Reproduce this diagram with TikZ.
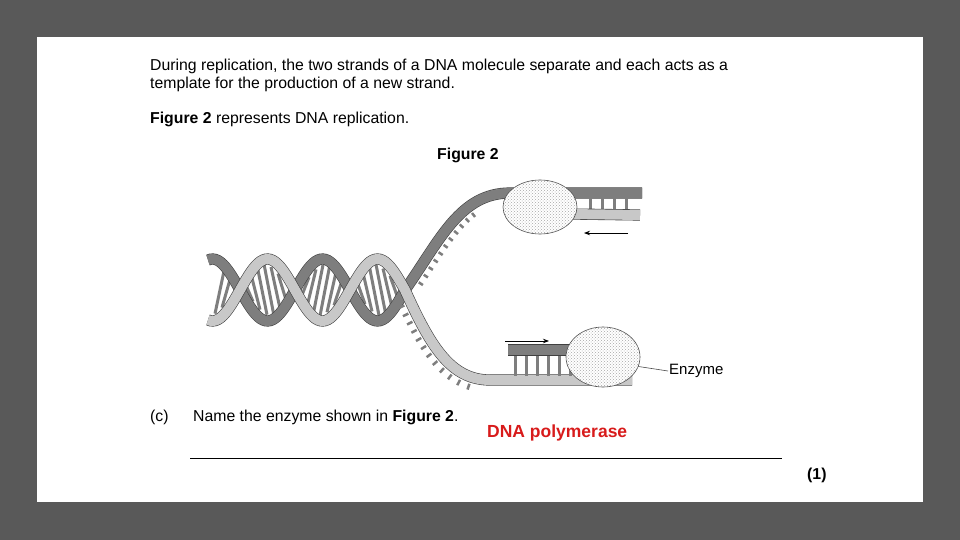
\documentclass[tikz,border=0pt]{standalone}
\usepackage{fontspec}
\setmainfont{Liberation Sans}
\usetikzlibrary{patterns,decorations.markings,arrows.meta,shapes.geometric}
\definecolor{bg}{HTML}{595959}
\definecolor{lite}{HTML}{C8C8C8}
\definecolor{dark}{HTML}{7E7E7E}
\definecolor{ans}{HTML}{D81B1B}
\begin{document}
\begin{tikzpicture}[x=1pt,y=-1pt,
  txt/.style={anchor=base west,inner sep=0pt,font=\fontsize{15.8}{18}\selectfont},
  lstrand/.style={draw=black!75,line width=0.6pt,double=lite,double distance=10pt},
  dstrand/.style={draw=black!75,line width=0.6pt,double=dark,double distance=10pt},
  rung/.style={line width=3pt,draw=dark},
  enz/.style={draw=black!70,line width=0.6pt,fill=white,postaction={pattern=crosshatch dots,pattern color=black!35}},
  arr/.style={-{Stealth[length=6pt]},line width=0.8pt}]
\fill[bg] (0,0) rectangle (960,540);
\fill[white] (37,37) rectangle (923,502);
\node[txt] (t1) at (150,71) {During replication, the two strands of a DNA molecule separate and each acts as a};
\node[txt] (t2) at (150,89) {template for the production of a new strand.};
\node[txt] (t3) at (150,124) {\textbf{Figure 2} represents DNA replication.};
\node[txt] (t4) at (437,160) {\textbf{Figure 2}};
% rungs in helix
\foreach \x in {220,227,...,400}{
  \pgfmathsetmacro{\c}{cos(3.2727*(\x-157.5))}
  \pgfmathparse{abs(\c)>0.35?1:0}
  \ifnum\pgfmathresult=1
   \draw[rung] (\x-5,{290-26*\c}) -- (\x+5,{290+26*\c});
  \fi}
% dark strand
\draw[dstrand] plot[domain=208:405,samples=80] (\x,{290+31*cos(3.2727*(\x-157.5))})
  .. controls (440,240) and (460,193) .. (510,193) -- (642,193);
\draw[decoration={markings,mark=between positions 0.05 and 0.38 step 9pt with {\draw[line width=2.5pt,dark] (0pt,-7pt)--(0pt,-12pt);}},decorate] (405,290) .. controls (440,240) and (460,193) .. (510,193) -- (642,193);
% light strand
\draw[lstrand] plot[domain=208:405,samples=80] (\x,{290-31*cos(3.2727*(\x-157.5))})
  .. controls (430,345) and (450,380) .. (490,380) -- (632,380);
\draw[decoration={markings,mark=between positions 0.05 and 0.42 step 9pt with {\draw[line width=2.5pt,dark] (0pt,-7pt)--(0pt,-13pt);}},decorate] (405,290) .. controls (430,345) and (450,380) .. (490,380) -- (632,380);
% upper replicated part
\foreach \x in {590,602,614,626}{\draw[line width=3pt,dark] (\x,197)--(\x,210);}
\draw[lstrand] (570,214) -- (640,215);
\node[enz,ellipse,minimum width=74pt,minimum height=54pt] (e1) at (540,207) {};
\draw[arr] (628,233) -- (584,233);
% lower replicated part
\foreach \x in {515,526,...,570}{\draw[line width=3pt,dark] (\x,353)--(\x,376);}
\draw[dstrand] (508,350) -- (578,350);
\node[enz,ellipse,minimum width=74pt,minimum height=60pt] (e2) at (603,357) {};
\draw[arr] (505,341) -- (549,341);
\node[anchor=west,inner sep=1pt,font=\fontsize{15}{17}\selectfont] (lab) at (668,371) {Enzyme};
\draw[line width=0.6pt,black!70] (e2.-15) -- (lab.west);
% question
\node[txt] (c) at (150,421) {(c)};
\node[txt] (q) at (193,421) {Name the enzyme shown in \textbf{Figure 2}.};
\node[txt,text=ans,font=\fontsize{17.5}{20}\selectfont] (a) at (487,437) {\textbf{DNA polymerase}};
\coordinate (l1) at (190,458); \coordinate (l2) at (782,458);
\draw[line width=0.6pt] (l1) -- (l2);
\node[txt] (m) at (807,479) {\textbf{(1)}};
\end{tikzpicture}
\end{document}
